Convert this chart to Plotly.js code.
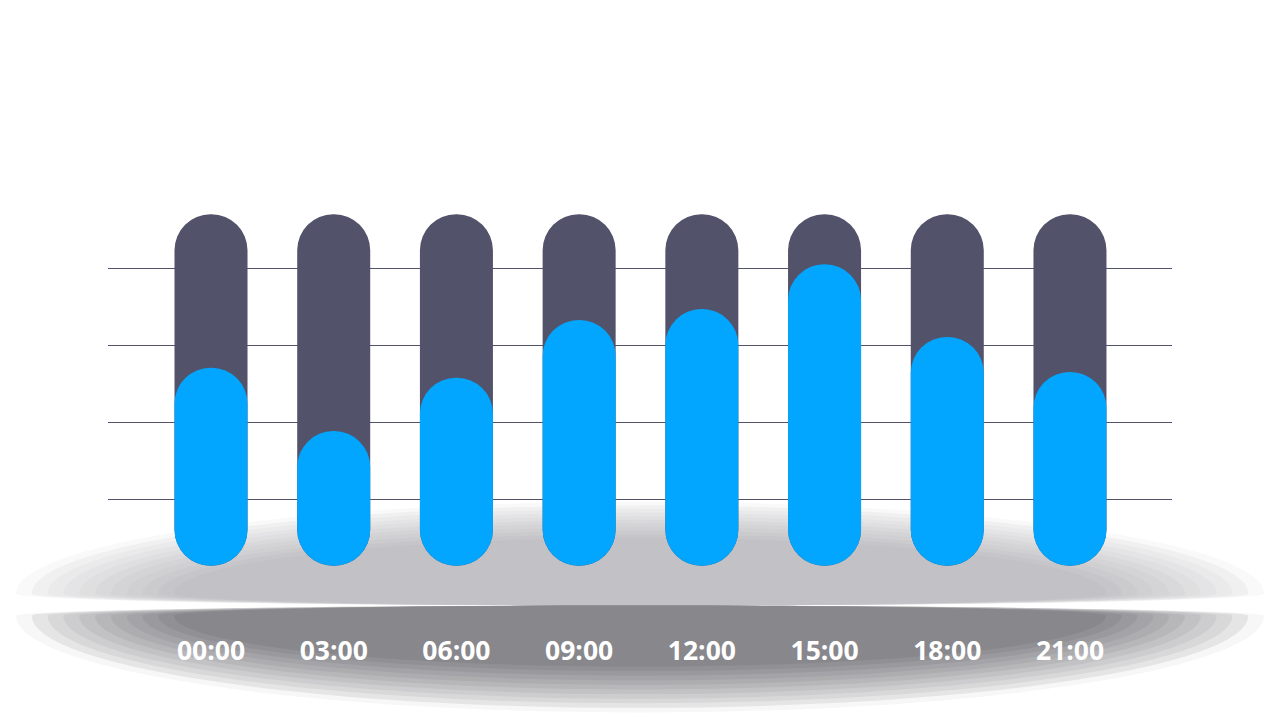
<!DOCTYPE html>
<html>
<head>
<meta charset="utf-8">
<script src="https://cdn.plot.ly/plotly-3.0.1.min.js"></script>
<style>
  html, body { margin: 0; padding: 0; background: #ffffff; }
  #chart { width: 1280px; height: 720px; }
</style>
</head>
<body>
<div id="chart"></div>
<script>
// ---- data ----
const categories = ['00:00', '03:00', '06:00', '09:00', '12:00', '15:00', '18:00', '21:00'];
const capacity   = [94, 94, 94, 94, 94, 94, 94, 94];                 // dark background capsule tops
const usage      = [54.2, 37.8, 51.6, 66.6, 69.4, 81.0, 62.2, 53.1]; // blue capsule tops
const floorValue = [2.9, 2.9, 2.9, 2.9, 2.9, 2.9, 2.9, 2.9];         // capsule bottoms
const gridValues = [20, 40, 60, 80];

// ---- styles ----
const darkColor = '#52526a';
const blueColor = '#02a6fe';
const W = 1280, H = 720;
const L = 108, R = 1172, T = 190.67, B = 577.33;
const barWidth = 0.595;
const xRange = [-0.8394, 7.8314];

function capsuleTrace(tops, bottoms, color) {
  return {
    type: 'bar', x: categories, base: bottoms, y: tops.map((t, i) => t - bottoms[i]),
    width: barWidth, marker: { color: color, cornerradius: '50%', line: { width: 0 } },
    hoverinfo: 'skip', showlegend: false
  };
}

const traces = [
  capsuleTrace(capacity, floorValue, darkColor),
  capsuleTrace(usage, floorValue, blueColor)
];

// ---- decorative shadow ellipses (pixel -> paper) ----
function px(x) { return ((x - L) / (R - L)).toFixed(5); }
function py(y) { return ((B - y) / (B - T)).toFixed(5); }
function ellipsePath(cx, cy, a, bu, bl) {
  const k = 0.5523;
  const P = (x, y) => px(x) + ',' + py(y);
  return 'M' + P(cx - a, cy) +
    ' C' + P(cx - a, cy - k * bu) + ' ' + P(cx - k * a, cy - bu) + ' ' + P(cx, cy - bu) +
    ' C' + P(cx + k * a, cy - bu) + ' ' + P(cx + a, cy - k * bu) + ' ' + P(cx + a, cy) +
    ' C' + P(cx + a, cy + k * bl) + ' ' + P(cx + k * a, cy + bl) + ' ' + P(cx, cy + bl) +
    ' C' + P(cx - k * a, cy + bl) + ' ' + P(cx - a, cy + k * bl) + ' ' + P(cx - a, cy) + ' Z';
}
function mix(c1, c2, t) {
  return 'rgb(' + c1.map((v, i) => Math.round(v + (c2[i] - v) * t)).join(',') + ')';
}
const shapes = [];
const N = 11;
for (let i = 0; i < N; i++) {
  const t = i / (N - 1);
  shapes.push({
    type: 'path', xref: 'paper', yref: 'paper', layer: 'below',
    path: ellipsePath(640, 594, 624 - 158 * t, 92 - 36 * t, 12),
    fillcolor: mix([249, 249, 249], [194, 194, 198], Math.pow(t, 0.8)), line: { width: 0 }
  });
}
for (let i = 0; i < N; i++) {
  const t = i / (N - 1);
  shapes.push({
    type: 'path', xref: 'paper', yref: 'paper', layer: 'below',
    path: ellipsePath(640, 616, 624 - 158 * t, 10, 97 - 46 * t),
    fillcolor: mix([247, 247, 247], [136, 135, 140], Math.pow(t, 0.8)), line: { width: 0 }
  });
}

const layout = {
  width: W, height: H,
  margin: { l: L, r: W - R, t: T, b: H - B, pad: 0 },
  paper_bgcolor: '#ffffff',
  plot_bgcolor: 'rgba(0,0,0,0)',
  barmode: 'overlay',
  showlegend: false,
  shapes: shapes,
  xaxis: {
    type: 'category', range: xRange, fixedrange: true,
    showgrid: false, zeroline: false, showline: false, ticks: '',
    tickfont: { family: 'Open Sans, sans-serif', size: 26.5, color: '#ffffff', weight: 'bold' },
    ticklabelstandoff: 55
  },
  yaxis: {
    range: [0, 100], fixedrange: true,
    tickvals: gridValues, showticklabels: false, ticks: '',
    showgrid: true, gridcolor: darkColor, gridwidth: 1,
    zeroline: false, showline: false
  }
};

Plotly.newPlot('chart', traces, layout, { staticPlot: true, displayModeBar: false });
</script>
</body>
</html>
